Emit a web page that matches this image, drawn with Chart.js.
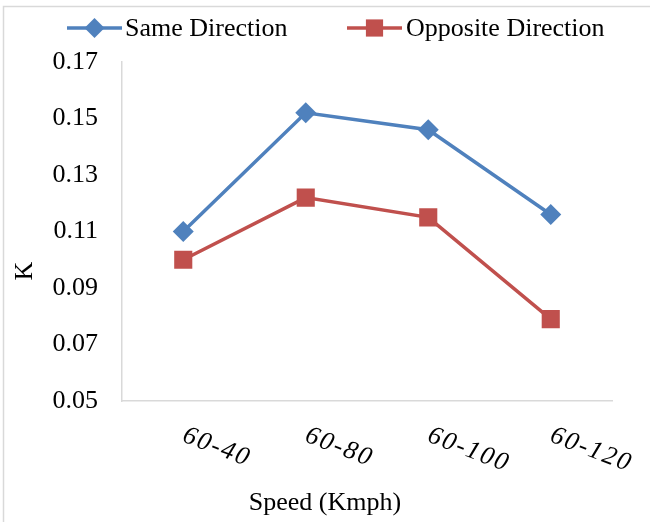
<!DOCTYPE html>
<html>
<head>
<meta charset="utf-8">
<script src="https://cdn.jsdelivr.net/npm/chart.js@4/dist/chart.umd.min.js"></script>
<style>
  html, body { margin: 0; padding: 0; background: #fff; }
  #wrap { width: 650px; height: 522px; position: relative; }
</style>
</head>
<body>
<div id="wrap"><canvas id="c" width="650" height="522"></canvas></div>
<script>
// Speed pairs on the x axis
const speedPairs = ['60-40', '60-80', '60-100', '60-120'];
// K values for each traffic direction
const sameDirection = [0.110, 0.152, 0.146, 0.116];
const oppositeDirection = [0.100, 0.122, 0.115, 0.079];
// Y axis range and step
const yMin = 0.05;
const yMax = 0.17;
const yStep = 0.02;
// Axis titles
const xTitle = 'Speed (Kmph)';
const yTitle = 'K';

const SERIF = "'Liberation Serif', 'Times New Roman', serif";
const BLUE = '#4F81BD';
const RED = '#C0504D';
const AXIS = '#D9D9D9';

// Outer frame, legend, slanted category labels and axis titles
const decorations = {
  id: 'decorations',
  beforeDraw(chart) {
    const ctx = chart.ctx;
    ctx.save();
    ctx.fillStyle = '#fff';
    ctx.fillRect(0, 0, chart.width, chart.height);
    ctx.strokeStyle = AXIS;
    ctx.lineWidth = 1.5;
    ctx.beginPath();
    ctx.moveTo(3.5, chart.height);
    ctx.lineTo(3.5, 6.5);
    ctx.lineTo(chart.width, 6.5);
    ctx.stroke();
    ctx.restore();
  },
  afterDraw(chart) {
    const ctx = chart.ctx;
    ctx.save();

    // legend: line sample with marker, then the series name
    const legendItems = [
      { ds: chart.data.datasets[0], x0: 67, x1: 122, tx: 125 },
      { ds: chart.data.datasets[1], x0: 347, x1: 402, tx: 406 }
    ];
    const ly = 28;
    legendItems.forEach(item => {
      const ds = item.ds;
      ctx.strokeStyle = ds.borderColor;
      ctx.lineWidth = ds.borderWidth;
      ctx.beginPath();
      ctx.moveTo(item.x0, ly);
      ctx.lineTo(item.x1, ly);
      ctx.stroke();
      ctx.fillStyle = ds.backgroundColor;
      ctx.strokeStyle = ds.backgroundColor;
      Chart.helpers.drawPoint(ctx, {
        pointStyle: ds.pointStyle,
        radius: ds.pointRadius * 0.95,
        rotation: 0,
        borderWidth: 0
      }, (item.x0 + item.x1) / 2, ly);
      ctx.fillStyle = '#000';
      ctx.font = '26px ' + SERIF;
      ctx.textAlign = 'left';
      ctx.textBaseline = 'middle';
      ctx.fillText(ds.label, item.tx, ly + 1);
    });

    // category labels, slanted downward to the right
    const xs = chart.scales.x;
    const angle = 21 * Math.PI / 180;
    ctx.font = 'italic 26px ' + SERIF;
    ctx.fillStyle = '#000';
    ctx.textAlign = 'left';
    ctx.textBaseline = 'alphabetic';
    speedPairs.forEach((lab, i) => {
      const px = xs.getPixelForTick(i);
      ctx.save();
      ctx.translate(px - 2, 441);
      ctx.rotate(angle);
      let off = 0;
      for (const ch of lab) {
        ctx.fillText(ch, off, 0);
        off += ctx.measureText(ch).width + 2;
      }
      ctx.restore();
    });

    // axis titles
    ctx.font = '26px ' + SERIF;
    ctx.textAlign = 'center';
    ctx.textBaseline = 'middle';
    ctx.fillText(xTitle, 325, 503);
    ctx.save();
    ctx.translate(25, 271);
    ctx.rotate(-Math.PI / 2);
    ctx.fillText(yTitle, 0, 0);
    ctx.restore();

    ctx.restore();
  }
};

new Chart(document.getElementById('c'), {
  type: 'line',
  data: {
    labels: speedPairs,
    datasets: [
      {
        label: 'Same Direction',
        data: sameDirection,
        borderColor: BLUE,
        backgroundColor: BLUE,
        borderWidth: 3.5,
        pointStyle: 'rectRot',
        pointRadius: 10.5,
        pointBorderWidth: 0,
        tension: 0
      },
      {
        label: 'Opposite Direction',
        data: oppositeDirection,
        borderColor: RED,
        backgroundColor: RED,
        borderWidth: 3.5,
        pointStyle: 'rect',
        pointRadius: 12.8,
        pointBorderWidth: 0,
        tension: 0
      }
    ]
  },
  options: {
    responsive: false,
    animation: false,
    events: [],
    layout: { padding: { top: 62, right: 38, left: 0, bottom: 0 } },
    plugins: {
      legend: { display: false },
      tooltip: { enabled: false }
    },
    scales: {
      x: {
        type: 'category',
        offset: true,
        grid: { display: false, drawTicks: false },
        border: { display: true, color: AXIS, width: 1.5 },
        ticks: { display: false },
        afterFit(scale) { scale.height = 121; }
      },
      y: {
        min: yMin,
        max: yMax,
        grid: { display: false, drawTicks: false },
        border: { display: true, color: AXIS, width: 1.5 },
        ticks: {
          stepSize: yStep,
          padding: 24,
          color: '#000',
          font: { family: SERIF, size: 26 },
          callback: v => v.toFixed(2)
        },
        afterFit(scale) { scale.width = 122; }
      }
    }
  },
  plugins: [decorations]
});
</script>
</body>
</html>
